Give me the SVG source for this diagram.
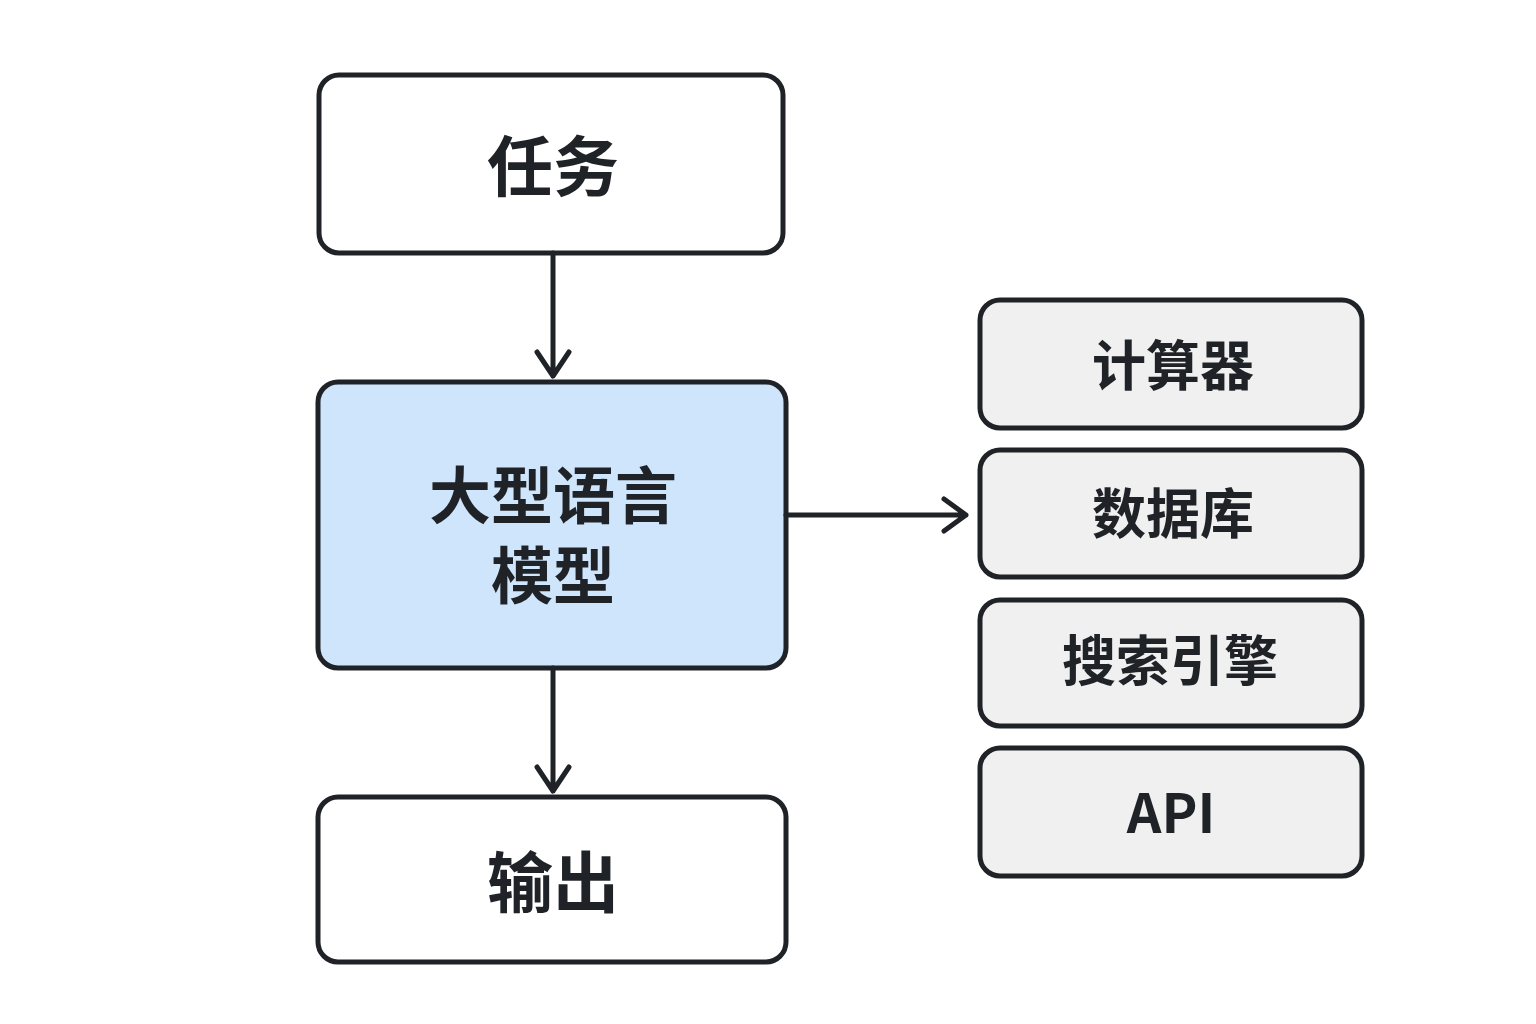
<svg xmlns="http://www.w3.org/2000/svg" width="1536" height="1024" viewBox="0 0 1536 1024">
<style>
.box{stroke:#1f2226;stroke-width:5;}
.w{fill:#fff}.b{fill:#cfe5fb}.g{fill:#f0f0f0}
.t{font-family:"Noto Sans CJK SC","Noto Sans",sans-serif;font-weight:700;fill:#1f2226;text-anchor:middle;dominant-baseline:central}
.c{stroke:#1f2226;stroke-width:5;fill:none;stroke-linecap:round;stroke-linejoin:round}
</style>
<rect width="1536" height="1024" fill="#fff"/>
<g id="task"><rect class="box w" x="319" y="75" width="464" height="178" rx="20"/><text class="t" x="553" y="162" font-size="66">任务</text></g>
<g id="llm"><rect class="box b" x="318" y="382" width="468" height="286" rx="20"/><text class="t" x="553" y="492" font-size="62">大型语言</text><text class="t" x="553" y="572" font-size="62">模型</text></g>
<g id="output"><rect class="box w" x="318" y="797" width="468" height="165" rx="20"/><text class="t" x="553" y="878" font-size="66">输出</text></g>
<g id="calc"><rect class="box g" x="980" y="300" width="382" height="128" rx="20"/><text class="t" x="1173" y="362" font-size="54">计算器</text></g>
<g id="db"><rect class="box g" x="980" y="450" width="382" height="127" rx="20"/><text class="t" x="1173" y="510" font-size="54">数据库</text></g>
<g id="search"><rect class="box g" x="980" y="600" width="382" height="126" rx="20"/><text class="t" x="1170" y="657" font-size="54">搜索引擎</text></g>
<g id="api"><rect class="box g" x="980" y="748" width="382" height="128" rx="20"/><text class="t" x="1171" y="809" font-size="54">API</text></g>
<g id="connectors">
<path class="c" d="M553 253V376M537 352L553 376L569 352"/>
<path class="c" d="M553 668V791M537 767L553 791L569 767"/>
<path class="c" d="M786 515H966M944 499L966 515L944 531"/>
</g>
</svg>
